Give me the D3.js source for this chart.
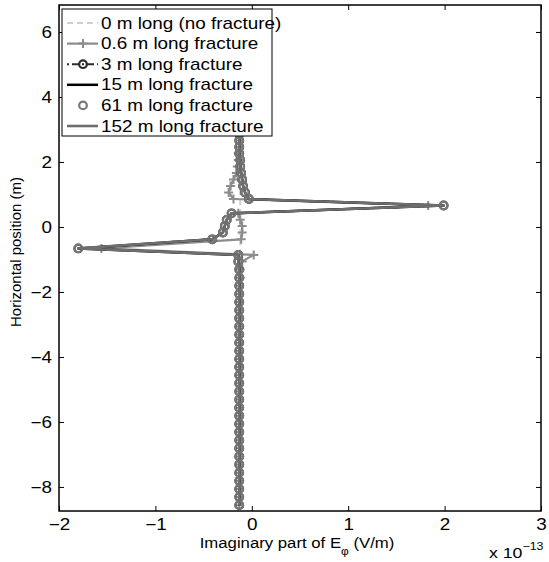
<!DOCTYPE html>
<html>
<head>
<meta charset="utf-8">
<script src="https://cdn.jsdelivr.net/npm/d3@7"></script>
<style>
  body { margin: 0; background: #fff; }
  text { font-family: "Liberation Sans", Arial, sans-serif; }
</style>
</head>
<body>
<div id="chart"></div>
<script>
// values of E_phi are in units of 1e-13 V/m
var positions = [-8.56, -8.31, -8.06, -7.81, -7.56, -7.31, -7.06, -6.81, -6.56, -6.31,
                 -6.06, -5.81, -5.56, -5.31, -5.06, -4.81, -4.56, -4.31, -4.06, -3.81,
                 -3.56, -3.31, -3.06, -2.81, -2.56, -2.31, -2.06, -1.81, -1.56, -1.31,
                 -1.06,
                 -0.86, -0.66, -0.38, -0.17, 0.03, 0.22, 0.42, 0.66, 0.86,
                 1.06, 1.26, 1.46, 1.66, 1.86, 2.06, 2.26, 2.46, 2.66, 2.86,
                 3.06, 3.26, 3.46, 3.66, 3.86, 4.06, 4.26, 4.46, 4.66, 4.86,
                 5.06, 5.26, 5.46, 5.66, 5.86, 6.06, 6.26];

var noFracture = [-0.12, -0.12, -0.12, -0.12, -0.12, -0.12, -0.12, -0.12, -0.12, -0.12,
                  -0.12, -0.12, -0.12, -0.12, -0.12, -0.12, -0.12, -0.12, -0.12, -0.12,
                  -0.12, -0.12, -0.12, -0.12, -0.12, -0.12, -0.12, -0.12, -0.12, -0.12,
                  -0.12,
                  -0.12, -0.12, -0.12, -0.12, -0.12, -0.12, -0.12, -0.12, -0.12,
                  -0.12, -0.12, -0.12, -0.12, -0.12, -0.12, -0.12, -0.12, -0.12, -0.12,
                  -0.12, -0.12, -0.12, -0.12, -0.12, -0.12, -0.12, -0.12, -0.12, -0.12,
                  -0.12, -0.12, -0.12, -0.12, -0.12, -0.12, -0.12];

var frac06 = [-0.13, -0.13, -0.13, -0.13, -0.13, -0.13, -0.13, -0.13, -0.13, -0.13,
              -0.13, -0.13, -0.13, -0.13, -0.13, -0.13, -0.13, -0.13, -0.13, -0.13,
              -0.13, -0.13, -0.13, -0.13, -0.13, -0.13, -0.13, -0.13, -0.12, -0.12,
              -0.10,
              0.02, -1.56, -0.11, -0.10, -0.10, -0.12, -0.14, 1.83, -0.19,
              -0.24, -0.22, -0.19, -0.16, -0.15, -0.14, -0.14, -0.13, -0.13, -0.13,
              -0.13, -0.13, -0.13, -0.13, -0.13, -0.13, -0.13, -0.13, -0.13, -0.13,
              -0.13, -0.13, -0.13, -0.13, -0.13, -0.13, -0.13];

var frac3 = [-0.13, -0.13, -0.13, -0.13, -0.13, -0.13, -0.13, -0.13, -0.13, -0.13,
             -0.13, -0.13, -0.13, -0.13, -0.13, -0.13, -0.13, -0.13, -0.13, -0.13,
             -0.13, -0.13, -0.13, -0.13, -0.13, -0.13, -0.13, -0.13, -0.13, -0.13,
             -0.14,
             -0.14, -1.80, -0.41, -0.30, -0.28, -0.26, -0.21, 1.99, -0.03,
             -0.07, -0.09, -0.10, -0.11, -0.12, -0.12, -0.13, -0.13, -0.13, -0.13,
             -0.13, -0.13, -0.13, -0.13, -0.13, -0.13, -0.13, -0.13, -0.13, -0.13,
             -0.13, -0.13, -0.13, -0.13, -0.13, -0.13, -0.13];

var frac15 = [-0.13, -0.13, -0.13, -0.13, -0.13, -0.13, -0.13, -0.13, -0.13, -0.13,
              -0.13, -0.13, -0.13, -0.13, -0.13, -0.13, -0.13, -0.13, -0.13, -0.13,
              -0.13, -0.13, -0.13, -0.13, -0.13, -0.13, -0.13, -0.13, -0.13, -0.13,
              -0.14,
              -0.14, -1.80, -0.41, -0.30, -0.28, -0.26, -0.21, 1.99, -0.03,
              -0.07, -0.09, -0.10, -0.11, -0.12, -0.12, -0.13, -0.13, -0.13, -0.13,
              -0.13, -0.13, -0.13, -0.13, -0.13, -0.13, -0.13, -0.13, -0.13, -0.13,
              -0.13, -0.13, -0.13, -0.13, -0.13, -0.13, -0.13];

var frac61 = [-0.13, -0.13, -0.13, -0.13, -0.13, -0.13, -0.13, -0.13, -0.13, -0.13,
              -0.13, -0.13, -0.13, -0.13, -0.13, -0.13, -0.13, -0.13, -0.13, -0.13,
              -0.13, -0.13, -0.13, -0.13, -0.13, -0.13, -0.13, -0.13, -0.13, -0.13,
              -0.14,
              -0.14, -1.80, -0.41, -0.30, -0.28, -0.26, -0.21, 1.99, -0.03,
              -0.07, -0.09, -0.10, -0.11, -0.12, -0.12, -0.13, -0.13, -0.13, -0.13,
              -0.13, -0.13, -0.13, -0.13, -0.13, -0.13, -0.13, -0.13, -0.13, -0.13,
              -0.13, -0.13, -0.13, -0.13, -0.13, -0.13, -0.13];

var frac152 = [-0.13, -0.13, -0.13, -0.13, -0.13, -0.13, -0.13, -0.13, -0.13, -0.13,
               -0.13, -0.13, -0.13, -0.13, -0.13, -0.13, -0.13, -0.13, -0.13, -0.13,
               -0.13, -0.13, -0.13, -0.13, -0.13, -0.13, -0.13, -0.13, -0.13, -0.13,
               -0.14,
               -0.14, -1.80, -0.41, -0.30, -0.28, -0.26, -0.21, 1.99, -0.03,
               -0.07, -0.09, -0.10, -0.11, -0.12, -0.12, -0.13, -0.13, -0.13, -0.13,
               -0.13, -0.13, -0.13, -0.13, -0.13, -0.13, -0.13, -0.13, -0.13, -0.13,
               -0.13, -0.13, -0.13, -0.13, -0.13, -0.13, -0.13];

var seriesNames = ["0 m long (no fracture)", "0.6 m long fracture", "3 m long fracture",
                   "15 m long fracture", "61 m long fracture", "152 m long fracture"];
var xTicks = [-2, -1, 0, 1, 2, 3];
var yTicks = [-8, -6, -4, -2, 0, 2, 4, 6];

var styles = [
    {values: noFracture, stroke: "#cfcfcf", width: 2, dash: "6,4", marker: null},
    {values: frac06, stroke: "#8c8c8c", width: 2.2, dash: null, marker: "plus"},
    {values: frac3, stroke: "#2b2b2b", width: 2, dash: "2,3,7,3", marker: "circle"},
    {values: frac15, stroke: "#000", width: 2.5, dash: null, marker: null},
    {values: frac61, stroke: "#777", width: 0, dash: null, marker: "circle"},
    {values: frac152, stroke: "#6e6e6e", width: 2.6, dash: null, marker: null}
];

var W = 549, H = 562;
var margin = {top: 5, right: 8, bottom: 51, left: 59};
var FS = 16;       // font size
var SX = 1.18;     // the picture is a bit wider than tall, text too

var svg = d3.select("#chart").append("svg")
    .attr("width", W)
    .attr("height", H);

var x = d3.scaleLinear().domain([-2, 3]).range([margin.left, W - margin.right]);
var y = d3.scaleLinear().domain([-8.74, 6.83]).range([H - margin.bottom, margin.top]);

// stretch a horizontal text sideways around its anchor point
function stretch(sel, ax, k) {
    k = k || SX;
    sel.attr("transform", "translate(" + ax + ",0) scale(" + k + ",1) translate(" + (-ax) + ",0)");
}

var plot = svg.append("g");
plot.append("clipPath").attr("id", "clip")
    .append("rect")
    .attr("x", margin.left).attr("y", margin.top)
    .attr("width", W - margin.left - margin.right)
    .attr("height", H - margin.top - margin.bottom);

var g = plot.append("g").attr("clip-path", "url(#clip)");

function drawMarker(sel, type, color) {
    if (type == "plus") {
        sel.append("path")
            .attr("d", "M-4.5,0H4.5M0,-4.5V4.5")
            .attr("stroke", color)
            .attr("stroke-width", 2)
            .attr("fill", "none");
    } else if (type == "circle") {
        sel.append("circle")
            .attr("r", 3.8)
            .attr("fill", "none")
            .attr("stroke", color)
            .attr("stroke-width", 2.2);
    }
}

styles.forEach(function(s) {
    var pts = positions.map(function(p, i) { return [s.values[i], p]; });
    if (s.width > 0) {
        g.append("path")
            .datum(pts)
            .attr("fill", "none")
            .attr("stroke", s.stroke)
            .attr("stroke-width", s.width)
            .attr("stroke-dasharray", s.dash)
            .attr("stroke-linejoin", "round")
            .attr("d", d3.line().x(function(d) { return x(d[0]); }).y(function(d) { return y(d[1]); }));
    }
    if (s.marker) {
        g.selectAll(null)
            .data(pts)
            .enter()
            .append("g")
            .attr("transform", function(d) { return "translate(" + x(d[0]) + "," + y(d[1]) + ")"; })
            .each(function() { drawMarker(d3.select(this), s.marker, s.stroke); });
    }
});

// -- axes, MATLAB style: ticks inside on all four sides --
var fmt = function(d) { return d < 0 ? "\u2212" + Math.abs(d) : d; };

var bottom = svg.append("g")
    .attr("transform", "translate(0," + (H - margin.bottom) + ")")
    .call(d3.axisBottom(x).tickValues(xTicks).tickSizeInner(-5).tickSizeOuter(0).tickPadding(8).tickFormat(fmt));
var top = svg.append("g")
    .attr("transform", "translate(0," + margin.top + ")")
    .call(d3.axisTop(x).tickValues(xTicks).tickSizeInner(-5).tickSizeOuter(0).tickFormat(""));
var left = svg.append("g")
    .attr("transform", "translate(" + margin.left + ",0)")
    .call(d3.axisLeft(y).tickValues(yTicks).tickSizeInner(-5).tickSizeOuter(0).tickPadding(7).tickFormat(fmt));
var right = svg.append("g")
    .attr("transform", "translate(" + (W - margin.right) + ",0)")
    .call(d3.axisRight(y).tickValues(yTicks).tickSizeInner(-5).tickSizeOuter(0).tickFormat(""));

svg.selectAll(".domain").remove();
svg.selectAll(".tick line").attr("stroke", "#000").attr("stroke-width", 1);
svg.selectAll(".tick text").attr("font-size", FS).attr("fill", "#000")
    .style("font-family", "'Liberation Sans', Arial, sans-serif");
bottom.selectAll(".tick text").call(stretch, 0);
left.selectAll(".tick text").call(stretch, -7);

svg.append("rect")
    .attr("x", margin.left).attr("y", margin.top)
    .attr("width", W - margin.left - margin.right)
    .attr("height", H - margin.top - margin.bottom)
    .attr("fill", "none")
    .attr("stroke", "#000")
    .attr("stroke-width", 1.5);

// axis titles
var xt = svg.append("text")
    .attr("x", 297).attr("y", 548)
    .attr("text-anchor", "middle")
    .attr("font-size", 15.5)
    .call(stretch, 297, 1.08);
xt.append("tspan").text("Imaginary part of E");
xt.append("tspan").attr("dy", 7).attr("font-size", 11).text("\u03c6");
xt.append("tspan").attr("dy", -7).text(" (V/m)");

svg.append("text")
    .attr("transform", "translate(21," + 252 + ") rotate(-90)")
    .attr("text-anchor", "middle")
    .attr("font-size", 15)
    .text("Horizontal position (m)");

var ex = svg.append("text")
    .attr("x", 489).attr("y", 558)
    .attr("font-size", 15)
    .call(stretch, 489);
ex.append("tspan").text("x 10");
ex.append("tspan").attr("dy", -8).attr("font-size", 10.5).text("\u221213");

// -- legend --
var lg = svg.append("g");
lg.append("rect")
    .attr("x", 62).attr("y", 9)
    .attr("width", 210).attr("height", 127)
    .attr("fill", "#fff")
    .attr("stroke", "#000")
    .attr("stroke-width", 1);

styles.forEach(function(s, i) {
    var ly = 23 + i * 20.6;
    var row = lg.append("g").attr("transform", "translate(0," + ly + ")");
    if (s.width > 0) {
        row.append("line")
            .attr("x1", 67).attr("x2", 98)
            .attr("y1", 0).attr("y2", 0)
            .attr("stroke", s.stroke)
            .attr("stroke-width", s.width)
            .attr("stroke-dasharray", s.dash);
    }
    if (s.marker) {
        var m = row.append("g").attr("transform", "translate(83,0)");
        drawMarker(m, s.marker, s.stroke);
    }
    row.append("text")
        .attr("x", 101).attr("y", 5.5)
        .attr("font-size", FS)
        .call(stretch, 101)
        .text(seriesNames[i]);
});
</script>
</body>
</html>
